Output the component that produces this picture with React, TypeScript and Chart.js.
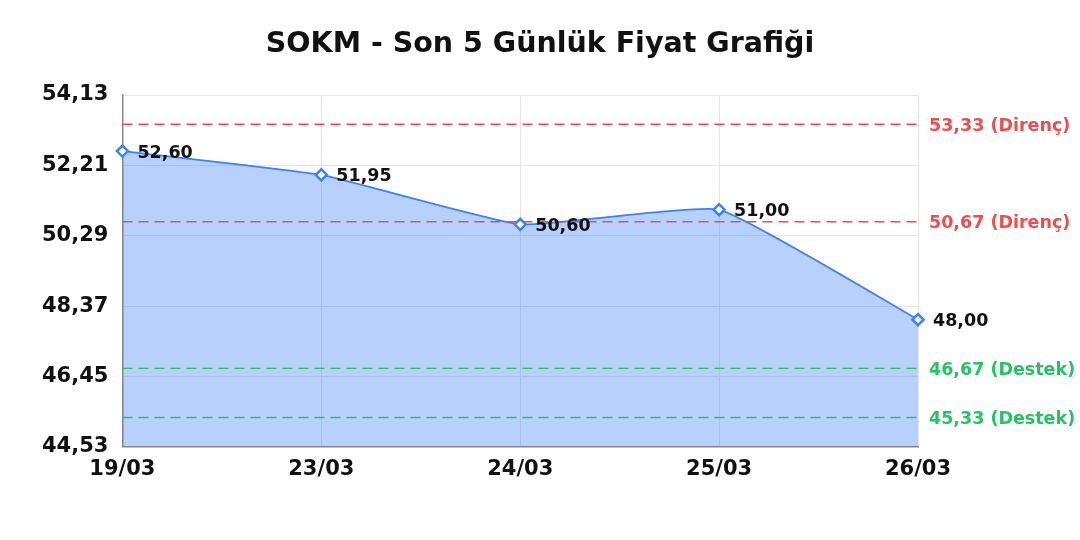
import React, { useEffect, useRef } from "react";
import { Chart, registerables } from "chart.js";

Chart.register(...registerables);

const title = "SOKM - Son 5 Günlük Fiyat Grafiği";
const categories = ["19/03", "23/03", "24/03", "25/03", "26/03"];
const prices = [52.6, 51.95, 50.6, 51.0, 48.0];
const yTicks = [44.53, 46.45, 48.37, 50.29, 52.21, 54.13];
const levelValues = [53.33, 50.67, 46.67, 45.33];
const levelNames = ["Direnç", "Direnç", "Destek", "Destek"];
const levelColors = ["#f04c4c", "#f04c4c", "#22c55e", "#22c55e"];

const FONT = "'DejaVu Sans', sans-serif";
const fmt = (v: number) => v.toFixed(2).replace(".", ",");

const titlePlugin = {
  id: "centerTitle",
  afterDraw(chart: any) {
    const { ctx, width } = chart;
    ctx.save();
    ctx.fillStyle = "#111";
    ctx.font = `bold 28.5px ${FONT}`;
    ctx.textAlign = "center";
    ctx.textBaseline = "middle";
    ctx.fillText(title, width / 2, 45);
    ctx.restore();
  },
};

const levelsPlugin = {
  id: "levels",
  afterDatasetsDraw(chart: any) {
    const { ctx, chartArea, scales } = chart;
    const y = scales.y;
    ctx.save();
    levelValues.forEach((v, i) => {
      const py = y.getPixelForValue(v);
      ctx.strokeStyle = levelColors[i];
      ctx.lineWidth = 1.4;
      ctx.setLineDash([10, 6]);
      ctx.beginPath();
      ctx.moveTo(chartArea.left, py);
      ctx.lineTo(chartArea.right, py);
      ctx.stroke();
      ctx.setLineDash([]);
      ctx.fillStyle = levelColors[i];
      ctx.font = `bold 17.5px ${FONT}`;
      ctx.textAlign = "left";
      ctx.textBaseline = "middle";
      ctx.fillText(`${fmt(v)} (${levelNames[i]})`, chartArea.right + 11, py + 2);
    });
    ctx.restore();
  },
};

const labelsPlugin = {
  id: "pointLabels",
  afterDraw(chart: any) {
    const { ctx } = chart;
    const meta = chart.getDatasetMeta(0);
    ctx.save();
    ctx.fillStyle = "#111";
    ctx.font = `bold 17.5px ${FONT}`;
    ctx.textAlign = "left";
    ctx.textBaseline = "middle";
    meta.data.forEach((pt: any, i: number) => {
      ctx.fillText(fmt(prices[i]), pt.x + 15, pt.y + 2);
    });
    ctx.restore();
  },
};

export default function App() {
  const ref = useRef<HTMLCanvasElement | null>(null);
  useEffect(() => {
    document.body.style.margin = "0";
    if (!ref.current) return;
    const chart = new Chart(ref.current, {
      type: "line",
      data: {
        labels: categories,
        datasets: [
          {
            data: prices,
            borderColor: "#3b82f6",
            backgroundColor: "rgba(59,130,246,0.37)",
            fill: "start",
            borderWidth: 1.8,
            tension: 0.12,
            pointStyle: "rectRot",
            pointRadius: 5.5,
            pointBackgroundColor: "#ffffff",
            pointBorderColor: "#3b82f6",
            pointBorderWidth: 2.5,
          },
        ],
      },
      options: {
        animation: false,
        responsive: true,
        maintainAspectRatio: false,
        layout: { padding: { left: 28, right: 162, top: 95, bottom: 48 } },
        plugins: {
          legend: { display: false },
          tooltip: { enabled: false },
          title: { display: false },
        },
        scales: {
          x: {
            offset: false,
            grid: { color: "#e5e5e5", drawTicks: false },
            border: { color: "#888", width: 1.5 },
            ticks: {
              color: "#111",
              font: { family: FONT, size: 21, weight: "bold" },
              padding: 10,
              maxRotation: 0,
            },
          },
          y: {
            min: yTicks[0],
            max: yTicks[yTicks.length - 1],
            afterBuildTicks(scale: any) {
              scale.ticks = yTicks.map((v) => ({ value: v }));
            },
            grid: { color: "#e5e5e5", drawTicks: false },
            border: { color: "#888", width: 1.5 },
            ticks: {
              color: "#111",
              font: { family: FONT, size: 21, weight: "bold" },
              padding: 14,
              callback: (v: any) => fmt(Number(v)),
            },
          },
        },
      },
      plugins: [levelsPlugin, labelsPlugin, titlePlugin],
    });
    return () => chart.destroy();
  }, []);
  return (
    <div style={{ width: 1080, height: 540, position: "relative" }}>
      <canvas ref={ref} />
    </div>
  );
}
